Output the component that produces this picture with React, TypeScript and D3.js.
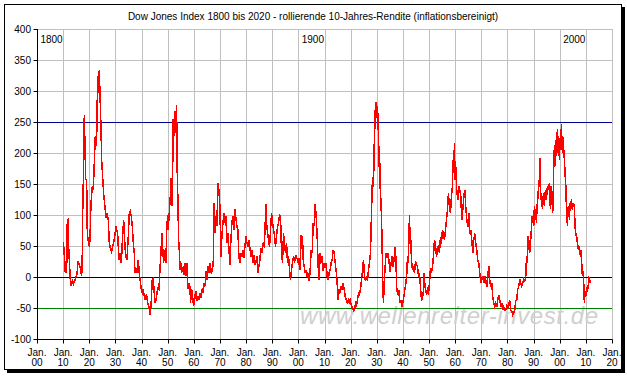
import React from "react";
import * as d3 from "d3";

// ---------- data ----------
const titleText =
  "Dow Jones Index 1800 bis 2020 - rollierende 10-Jahres-Rendite (inflationsbereinigt)";
const watermarkText = "www.wellenreiter-invest.de";
const centuryLabels = [1800, 1900, 2000];
const yTicks = [-100, -50, 0, 50, 100, 150, 200, 250, 300, 350, 400];
const xTicks = d3.range(1800, 2021, 10);
const refLines = [250, 0, -50];

// [year, rolling 10y real return in %]
const era1810 = [
  [1810.07, 57], [1810.32, 44], [1810.58, 25], [1810.83, 7], [1811.09, 25], [1811.34, 7],
  [1811.6, 92], [1811.85, 93], [1812.11, 49], [1812.36, 28], [1812.75, -4], [1813.13, -15],
  [1813.51, -7], [1813.89, -12], [1814.28, -7], [1814.66, -4], [1814.91, 1], [1815.3, 4],
  [1815.68, 25], [1816.06, 21], [1816.44, 17], [1816.83, 7], [1817.08, 1], [1817.34, 39],
  [1817.46, 98], [1817.72, 154], [1818.1, 262], [1818.36, 211], [1818.61, 157], [1818.99, 157],
  [1819.25, 71], [1819.63, 57], [1820.01, 49], [1820.27, 60], [1820.65, 119], [1821.16, 146],
  [1821.54, 141], [1821.92, 184], [1822.31, 227], [1822.56, 211], [1822.82, 221], [1823.2, 324],
  [1823.45, 297], [1823.84, 334], [1824.09, 297], [1824.47, 243], [1824.73, 189], [1825.11, 162],
  [1825.49, 135], [1826.0, 114], [1826.39, 95], [1826.77, 103], [1827.28, 92], [1827.66, 55],
  [1827.92, 49], [1828.3, 44], [1828.55, 41], [1828.94, 49], [1829.32, 55], [1829.83, 68],
  [1830.21, 82], [1830.59, 74], [1830.85, 71], [1831.36, 28], [1831.74, 39], [1832.12, 23],
  [1832.38, 33], [1832.76, 66], [1833.14, 92], [1833.4, 76], [1833.65, 49], [1834.03, 33],
  [1834.42, 28], [1834.93, 66], [1835.31, 103], [1835.69, 106], [1836.07, 98], [1836.46, 82],
  [1836.84, 55], [1837.22, 39], [1837.48, 7], [1837.86, 14], [1838.24, 7], [1838.75, 28],
  [1839.13, 7], [1839.52, -7], [1839.9, -20], [1840.28, -26], [1840.66, -20], [1841.05, -31],
  [1841.3, -37], [1841.94, -28], [1842.32, -42], [1842.83, -47], [1843.21, -61], [1843.59, -50],
  [1844.1, -4], [1844.49, -2], [1844.87, -26], [1845.25, -42], [1845.76, -31], [1846.14, -18],
  [1846.65, -20], [1847.04, 12], [1847.42, 39], [1847.8, 71], [1848.06, 49], [1848.44, 23],
];

const era1849 = [
  [1848.95, 44], [1849.33, 23], [1849.59, 71], [1849.97, 100], [1850.22, 76], [1850.61, 103],
  [1850.99, 130], [1851.24, 160], [1851.5, 125], [1851.75, 114], [1852.13, 254], [1852.39, 227],
  [1852.77, 267], [1853.15, 232], [1853.41, 278], [1853.66, 168], [1853.92, 122], [1854.17, 60],
  [1854.43, 44], [1854.68, 12], [1854.94, 25], [1855.32, 7], [1855.7, 12], [1856.09, 17],
  [1856.34, 4], [1856.6, 23], [1856.98, 1], [1857.36, 23], [1857.62, -10], [1857.87, -20],
  [1858.13, -10], [1858.51, -15], [1858.76, -42], [1859.15, -20], [1859.53, -31], [1859.91, -47],
  [1860.17, -42], [1860.55, -28], [1860.8, -23], [1861.19, -39], [1861.57, -31], [1861.95, -37],
  [1862.33, -26], [1862.72, -34], [1863.22, -20], [1863.61, -23], [1863.99, -10], [1864.37, -15],
  [1864.75, 9], [1865.14, -4], [1865.52, 17], [1865.9, 7], [1866.29, 23], [1866.67, 7],
  [1867.05, 9], [1867.43, 23], [1867.81, 119], [1868.07, 71], [1868.45, 98], [1868.83, 82],
  [1869.22, 152], [1869.6, 141], [1869.98, 114], [1870.36, 33], [1870.75, 66], [1871.13, 87],
  [1871.64, 103], [1871.89, 87], [1872.28, 98], [1872.66, 55], [1873.04, 71], [1873.42, 47],
  [1873.8, 20], [1874.19, 60], [1874.57, 87], [1874.95, 98], [1875.33, 76], [1875.72, 109],
  [1876.1, 95], [1876.48, 82], [1876.86, 76], [1877.25, 33], [1877.63, 23], [1878.01, 39],
  [1878.39, 33], [1878.78, 44], [1879.16, 31], [1879.54, 49], [1879.92, 66], [1880.31, 55],
  [1880.69, 49], [1881.07, 60], [1881.45, 47], [1881.84, 33], [1882.22, 44], [1882.6, 23],
  [1882.98, 36], [1883.37, 20], [1883.75, 25], [1884.13, 33], [1884.51, 7], [1884.9, 17],
  [1885.28, 28], [1885.66, 47], [1886.04, 39], [1886.42, 52], [1886.81, 49], [1887.19, 71],
  [1887.57, 117], [1887.83, 87], [1888.21, 71], [1888.59, 60], [1888.97, 49], [1889.36, 76],
  [1889.74, 103], [1890.12, 87], [1890.5, 76], [1890.89, 66], [1891.27, 49], [1891.65, 66],
  [1892.03, 82], [1892.42, 87], [1892.8, 100],
];

const era1893 = [
  [1893.18, 98], [1893.56, 39], [1893.94, 23], [1894.33, 71], [1894.71, 49], [1895.09, 39],
  [1895.47, 55], [1895.86, 23], [1896.24, 33], [1896.62, 12], [1897.0, -4], [1897.39, 12],
  [1897.77, 23], [1898.15, 33], [1898.53, 23], [1898.92, 36], [1899.3, 31], [1899.68, 28],
  [1900.06, 20], [1900.32, 31], [1900.7, 12], [1901.08, 68], [1901.34, 49], [1901.59, 66],
  [1901.85, 28], [1902.23, 17], [1902.61, 7], [1902.99, 9], [1903.38, 1], [1903.76, 7],
  [1904.14, -7], [1904.52, 12], [1904.91, 44], [1905.29, 39], [1905.67, 87], [1906.05, 82],
  [1906.44, 117], [1906.82, 98], [1907.2, 66], [1907.58, 17], [1907.97, -4], [1908.35, 39],
  [1908.73, 23], [1909.11, 33], [1909.5, 9], [1909.88, 23], [1910.26, 14], [1910.64, 23],
  [1911.03, 1], [1911.41, -4], [1911.79, 7], [1912.17, 12], [1912.56, 23], [1912.94, 28],
  [1913.32, 44], [1913.7, 39], [1914.09, 23], [1914.47, 9], [1914.85, -10], [1915.23, -37],
  [1915.62, -20], [1916.0, -26], [1916.38, -15], [1916.76, -20], [1917.14, -10], [1917.53, -20],
  [1917.91, -31], [1918.29, -37], [1918.67, -42], [1919.06, -37], [1919.44, -42], [1919.82, -37],
  [1920.2, -45], [1920.71, -50], [1921.1, -55], [1921.48, -53], [1921.86, -42], [1922.24, -45],
  [1922.63, -37], [1923.01, -26], [1923.39, -28], [1923.77, -20], [1924.16, -4], [1924.54, 9],
  [1924.92, 28], [1925.3, 1], [1925.69, -7], [1926.07, 1], [1926.45, -7], [1926.83, 12],
  [1927.22, 23], [1927.6, 39], [1927.98, 103], [1928.36, 162], [1928.74, 146], [1929.0, 205],
  [1929.25, 270], [1929.51, 238], [1929.76, 283], [1930.02, 259], [1930.27, 275], [1930.53, 248],
  [1930.78, 178], [1931.04, 211], [1931.29, 146], [1931.55, 125], [1931.8, 98], [1932.06, 49],
  [1932.31, -15], [1932.57, -42], [1932.82, -10], [1933.21, 17], [1933.59, 39], [1933.97, 33],
  [1934.35, 39], [1934.74, 23], [1935.12, 9], [1935.5, 23], [1935.88, 33], [1936.27, 17],
  [1936.65, 28],
];

const era1937 = [
  [1936.9, 49], [1937.28, 33], [1937.67, -21], [1938.05, -26], [1938.43, -21], [1938.81, -42],
  [1939.2, -37], [1939.58, -48], [1939.96, -42], [1940.34, -32], [1940.73, -21], [1941.11, -10],
  [1941.49, 6], [1941.75, 33], [1942.0, 22], [1942.26, 60], [1942.51, 100], [1942.77, 54],
  [1943.02, 60], [1943.28, 27], [1943.66, 11], [1944.04, 17], [1944.42, 6], [1944.81, 25],
  [1945.19, 19], [1945.57, 17], [1945.95, 1], [1946.34, 6], [1946.72, -16], [1947.1, -37],
  [1947.48, -34], [1947.86, -21], [1948.12, 6], [1948.37, -10], [1948.63, -21], [1949.01, -26],
  [1949.39, -21], [1949.78, -29], [1950.16, -10], [1950.54, 14], [1950.92, 6], [1951.31, 17],
  [1951.69, 33], [1952.07, 60], [1952.45, 52], [1952.84, 33], [1953.22, 44], [1953.6, 52],
  [1953.98, 38], [1954.37, 65], [1954.75, 54], [1955.13, 76], [1955.51, 70], [1955.89, 60],
  [1956.28, 76], [1956.66, 92], [1957.04, 108], [1957.42, 135], [1957.81, 113], [1958.19, 103],
  [1958.57, 130], [1958.95, 146], [1959.21, 189], [1959.46, 173], [1959.72, 216], [1959.97, 157],
  [1960.23, 178], [1960.61, 140], [1960.99, 124], [1961.38, 146], [1961.76, 140], [1962.14, 130],
  [1962.52, 92], [1962.91, 108], [1963.29, 130], [1963.67, 140], [1964.05, 113], [1964.44, 92],
  [1964.82, 81], [1965.2, 103], [1965.58, 70], [1965.97, 76], [1966.35, 60], [1966.73, 38],
  [1967.11, 60], [1967.49, 70], [1967.88, 54], [1968.26, 44], [1968.64, 27], [1969.02, 22],
  [1969.41, 6], [1969.79, -10], [1970.17, -5], [1970.55, 1], [1970.94, -10], [1971.32, 1],
  [1971.7, -5], [1972.08, -16], [1972.47, 1], [1972.85, 17], [1973.23, -5], [1973.61, -16],
  [1974.0, -10], [1974.38, -32], [1974.76, -42], [1975.14, -48], [1975.53, -42], [1975.91, -48],
  [1976.29, -37], [1976.67, -29], [1977.06, -37], [1977.44, -48], [1977.82, -42], [1978.2, -53],
  [1978.59, -48], [1978.97, -53],
];

const era1979 = [
  [1979.35, -53], [1979.73, -47], [1980.11, -50], [1980.5, -42], [1980.88, -39], [1981.26, -53],
  [1981.64, -55], [1982.03, -61], [1982.41, -58], [1982.79, -53], [1983.17, -39], [1983.56, -37],
  [1983.94, -20], [1984.32, -15], [1984.7, -4], [1985.09, -10], [1985.47, -15], [1985.85, -10],
  [1986.23, -4], [1986.62, -7], [1987.0, 1], [1987.25, 28], [1987.51, 23], [1987.76, 66],
  [1988.02, 44], [1988.27, 60], [1988.53, 39], [1988.78, 55], [1989.04, 66], [1989.29, 98],
  [1989.55, 87], [1989.8, 92], [1990.06, 82], [1990.31, 114], [1990.57, 92], [1990.82, 109],
  [1991.08, 87], [1991.33, 114], [1991.71, 130], [1991.97, 157], [1992.22, 146], [1992.48, 192],
  [1992.73, 125], [1992.99, 135], [1993.37, 109], [1993.75, 135], [1994.14, 114], [1994.52, 141],
  [1994.9, 125], [1995.28, 146], [1995.67, 141], [1996.05, 152], [1996.43, 109], [1996.69, 146],
  [1996.94, 130], [1997.32, 103], [1997.58, 146], [1997.83, 205], [1998.09, 178], [1998.34, 221],
  [1998.6, 195], [1998.85, 216], [1999.11, 238], [1999.36, 200], [1999.62, 227], [1999.87, 189],
  [2000.13, 216], [2000.38, 211], [2000.64, 246], [2000.89, 205], [2001.15, 227], [2001.4, 195],
  [2001.66, 205], [2001.91, 162], [2002.17, 178], [2002.42, 125], [2002.68, 114], [2002.93, 82],
  [2003.19, 109], [2003.44, 114], [2003.7, 92], [2003.95, 119], [2004.21, 109], [2004.46, 125],
  [2004.84, 109], [2005.23, 119], [2005.61, 114], [2005.86, 82], [2006.12, 66], [2006.37, 71],
  [2006.76, 55], [2007.14, 44], [2007.52, 49], [2007.9, 33], [2008.16, 44], [2008.41, 23],
  [2008.67, 1], [2008.92, 9], [2009.18, -10], [2009.43, -42], [2009.69, -26], [2009.94, -23],
  [2010.2, -31], [2010.45, -18], [2010.71, -15], [2010.96, -20], [2011.22, -2], [2011.47, -4],
  [2011.73, -10],
];

const series = [...era1810, ...era1849, ...era1893, ...era1937, ...era1979];

// ---------- chart ----------
const W = 627;
const H = 376;
const FONT = "'Liberation Sans', Arial, sans-serif";

export default function App() {
  const x = d3.scaleLinear().domain([1800, 2020]).range([37, 612]);
  const y = d3.scaleLinear().domain([-100, 400]).range([339, 29]);
  const px = (v: number) => Math.round(v) + 0.5;

  const line = d3
    .line<number[]>()
    .x((d) => x(d[0]))
    .y((d) => y(d[1]));

  const refColor = (v: number) =>
    v === 250 ? "#000090" : v === 0 ? "#000000" : "#008000";

  const x0 = x(1800);
  const x1 = x(2020);
  const yTop = y(400);
  const yBot = y(-100);

  return (
    <svg
      width={W}
      height={H}
      style={{ position: "fixed", left: 0, top: 0, background: "#fff" }}
      fontFamily={FONT}
    >
      <rect x={0} y={0} width={W} height={H} fill="#fff" />
      {/* frame shadow */}
      <rect x={7} y={370} width={618} height={3} fill="#000" />
      <rect x={622} y={7} width={3} height={366} fill="#000" />
      {/* frame */}
      <rect x={4.5} y={4.5} width={617} height={365} fill="#fff" stroke="#000" strokeWidth={1} />

      <text x={313} y={20} textAnchor="middle" fontSize={10} fill="#000">
        {titleText}
      </text>

      {/* grid */}
      {xTicks.map((t) => (
        <line
          key={"gx" + t}
          x1={px(x(t))}
          x2={px(x(t))}
          y1={yTop}
          y2={yBot}
          stroke="#c0c0c0"
          strokeWidth={1}
        />
      ))}
      {yTicks
        .filter((t) => !refLines.includes(t))
        .map((t) => (
          <line
            key={"gy" + t}
            x1={x0}
            x2={x1}
            y1={px(y(t))}
            y2={px(y(t))}
            stroke="#c0c0c0"
            strokeWidth={1}
          />
        ))}

      {/* watermark */}
      <text
        x={300}
        y={324}
        fontSize={24}
        fontStyle="italic"
        fill="#cfcfcf"
        textLength={298}
        lengthAdjust="spacing"
      >
        {watermarkText}
      </text>

      {/* reference lines */}
      {refLines.map((v) => (
        <line
          key={"r" + v}
          x1={x0}
          x2={x1}
          y1={px(y(v))}
          y2={px(y(v))}
          stroke={refColor(v)}
          strokeWidth={1}
        />
      ))}

      {/* century labels */}
      {centuryLabels.map((c) => (
        <text key={"c" + c} x={x(c + 1.3)} y={43} fontSize={10} fill="#000">
          {c}
        </text>
      ))}

      {/* data */}
      <path
        d={line(series as number[][]) || ""}
        fill="none"
        stroke="#ff0000"
        strokeWidth={1.5}
        shapeRendering="crispEdges"
      />

      {/* axes */}
      <line x1={px(x0)} x2={px(x0)} y1={yTop} y2={yBot + 0.5} stroke="#000" />
      <line x1={x0} x2={x1 + 0.5} y1={px(yBot)} y2={px(yBot)} stroke="#000" />
      {yTicks.map((t) => (
        <g key={"yt" + t}>
          <line x1={px(x0) - 4} x2={px(x0)} y1={px(y(t))} y2={px(y(t))} stroke="#000" />
          <text x={31} y={y(t) + 3.5} textAnchor="end" fontSize={10} fill="#000">
            {t}
          </text>
        </g>
      ))}
      {xTicks.map((t) => (
        <g key={"xt" + t}>
          <line x1={px(x(t))} x2={px(x(t))} y1={px(yBot)} y2={px(yBot) + 4} stroke="#000" />
          <text x={x(t)} y={356} textAnchor="middle" fontSize={10} fill="#000">
            Jan.
          </text>
          <text x={x(t)} y={366} textAnchor="middle" fontSize={10} fill="#000">
            {String(t % 100).padStart(2, "0")}
          </text>
        </g>
      ))}
    </svg>
  );
}
